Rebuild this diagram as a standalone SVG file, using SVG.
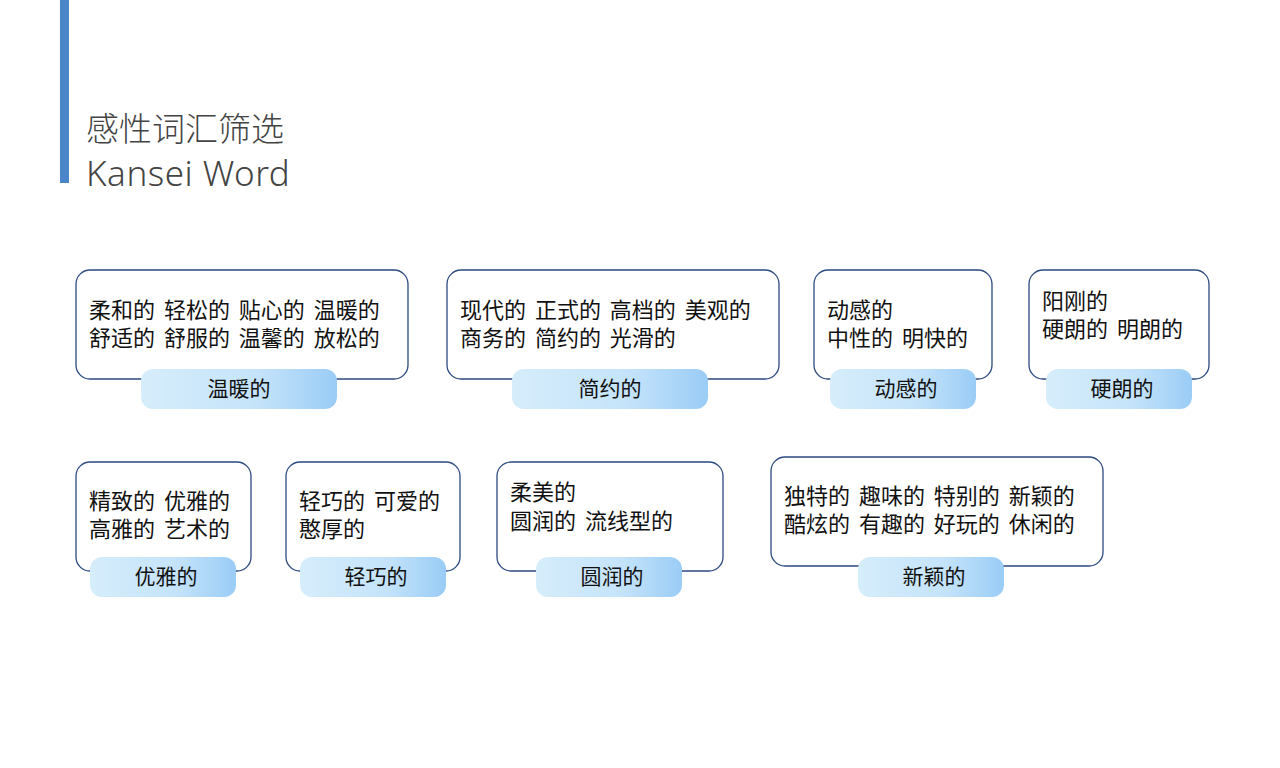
<svg xmlns="http://www.w3.org/2000/svg" width="1280" height="768" viewBox="0 0 1280 768">
<defs>
<linearGradient id="pg" x1="0" x2="1" y1="0" y2="0"><stop offset="0" stop-color="#d6edfb"/><stop offset="0.6" stop-color="#c4e3fa"/><stop offset="1" stop-color="#9accf6"/></linearGradient>
<style>
.box{fill:#fff;stroke:#2c4a80;stroke-width:1.3}
.pill{fill:url(#pg)}
text{font-family:"Noto Sans CJK SC","Noto Sans",sans-serif;fill:#111}
.t{font-size:22px;word-spacing:4px}
.l{font-size:21px;text-anchor:middle}
</style>
</defs>
<rect width="1280" height="768" fill="#fff"/>
<rect x="60" y="0" width="9" height="183" fill="#4a86c8"/>
<text x="86" y="141" style="font-size:33px;fill:#444;font-weight:300">感性词汇筛选</text>
<text x="86" y="186" style="font-size:35px;fill:#444;font-family:'Noto Sans',sans-serif;font-weight:300;letter-spacing:0.5px">Kansei Word</text>
<g id="n1"><rect class="box" x="76" y="270" width="332" height="109" rx="14"/><rect class="pill" x="141" y="369" width="196" height="40" rx="12"/>
<text class="t" x="89" y="318">柔和的 轻松的 贴心的 温暖的</text><text class="t" x="89" y="346">舒适的 舒服的 温馨的 放松的</text><text class="l" x="239" y="396">温暖的</text></g>
<g id="n2"><rect class="box" x="447" y="270" width="332" height="109" rx="14"/><rect class="pill" x="512" y="369" width="196" height="40" rx="12"/>
<text class="t" x="460" y="318">现代的 正式的 高档的 美观的</text><text class="t" x="460" y="346">商务的 简约的 光滑的</text><text class="l" x="610" y="396">简约的</text></g>
<g id="n3"><rect class="box" x="814" y="270" width="178" height="109" rx="14"/><rect class="pill" x="830" y="369" width="146" height="40" rx="12"/>
<text class="t" x="827" y="318">动感的</text><text class="t" x="827" y="346">中性的 明快的</text><text class="l" x="906" y="396">动感的</text></g>
<g id="n4"><rect class="box" x="1029" y="270" width="180" height="109" rx="14"/><rect class="pill" x="1046" y="369" width="146" height="40" rx="12"/>
<text class="t" x="1042" y="309">阳刚的</text><text class="t" x="1042" y="337">硬朗的 明朗的</text><text class="l" x="1122" y="396">硬朗的</text></g>
<g id="n5"><rect class="box" x="76" y="462" width="175" height="109" rx="14"/><rect class="pill" x="90" y="557" width="146" height="40" rx="12"/>
<text class="t" x="89" y="509">精致的 优雅的</text><text class="t" x="89" y="537">高雅的 艺术的</text><text class="l" x="166" y="584">优雅的</text></g>
<g id="n6"><rect class="box" x="286" y="462" width="174" height="109" rx="14"/><rect class="pill" x="300" y="557" width="146" height="40" rx="12"/>
<text class="t" x="299" y="509">轻巧的 可爱的</text><text class="t" x="299" y="537">憨厚的</text><text class="l" x="376" y="584">轻巧的</text></g>
<g id="n7"><rect class="box" x="497" y="462" width="226" height="109" rx="14"/><rect class="pill" x="536" y="557" width="146" height="40" rx="12"/>
<text class="t" x="510" y="500">柔美的</text><text class="t" x="510" y="529">圆润的 流线型的</text><text class="l" x="612" y="584">圆润的</text></g>
<g id="n8"><rect class="box" x="771" y="457" width="332" height="109" rx="14"/><rect class="pill" x="858" y="557" width="146" height="40" rx="12"/>
<text class="t" x="784" y="504">独特的 趣味的 特别的 新颖的</text><text class="t" x="784" y="532">酷炫的 有趣的 好玩的 休闲的</text><text class="l" x="934" y="584">新颖的</text></g>
<g id="connectors"/>
</svg>
